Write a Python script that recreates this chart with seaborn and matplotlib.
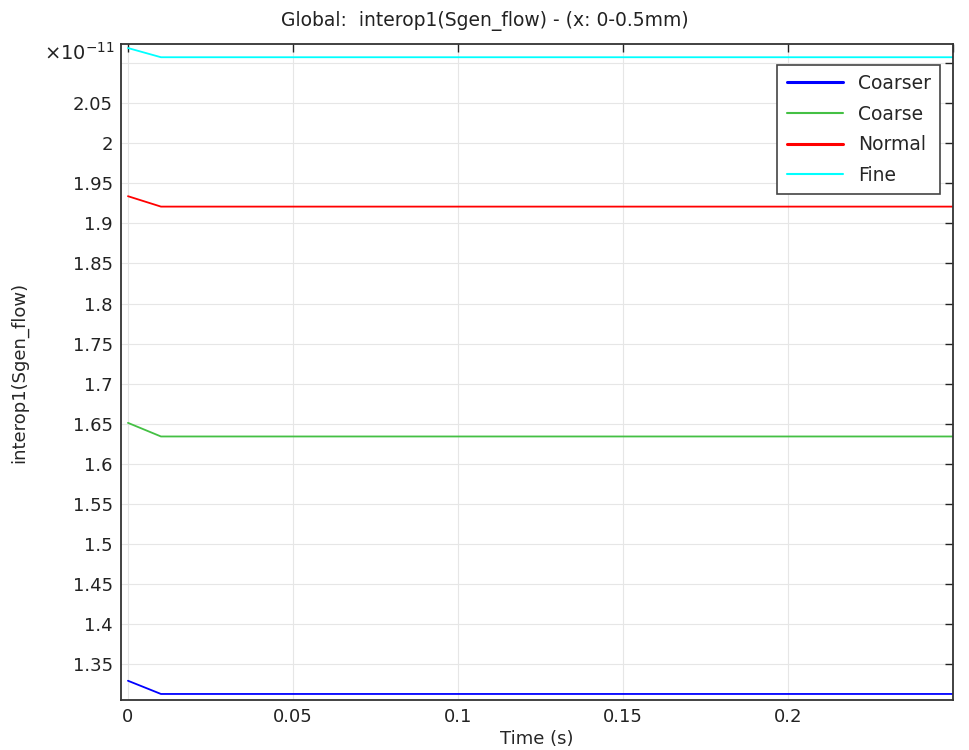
import matplotlib
matplotlib.use("Agg")
import matplotlib.pyplot as plt
import seaborn as sns
import pandas as pd

sns.set_theme(style="white")
plt.rcParams['font.family'] = ['DejaVu Sans']

# Data (values in units of 1e-11)
time_s = [0.0, 0.01, 0.25]
coarser = [1.329, 1.3125, 1.3125]
coarse = [1.651, 1.634, 1.634]
normal = [1.934, 1.921, 1.921]
fine = [2.119, 2.1075, 2.1075]
mesh_names = ['Coarser', 'Coarse', 'Normal', 'Fine']
line_colors = ['#0000ff', '#44c044', '#ff0000', '#00ffff']
y_ticks = [1.35, 1.4, 1.45, 1.5, 1.55, 1.6, 1.65, 1.7, 1.75, 1.8, 1.85,
           1.9, 1.95, 2.0, 2.05, 2.1]
y_labels = ['1.35', '1.4', '1.45', '1.5', '1.55', '1.6', '1.65', '1.7', '1.75',
            '1.8', '1.85', '1.9', '1.95', '2', '2.05', '']
x_ticks = [0, 0.05, 0.1, 0.15, 0.2, 0.25]
x_labels = ['0', '0.05', '0.1', '0.15', '0.2', '']

rows = []
for name, vals in zip(mesh_names, [coarser, coarse, normal, fine]):
    for t, v in zip(time_s, vals):
        rows.append({'Time': t, 'Value': v, 'Mesh': name})
df = pd.DataFrame(rows)

fig = plt.figure(figsize=(9.69, 7.5), dpi=100)
ax = fig.add_axes([0.1249, 0.0667, 0.8586, 0.8746])

sns.lineplot(data=df, x='Time', y='Value', hue='Mesh', hue_order=mesh_names,
             palette=line_colors, linewidth=1.3, ax=ax, legend=False)

ax.set_xlim(-0.0021, 0.25)
ax.set_ylim(1.305, 2.124)
ax.set_xticks(x_ticks)
ax.set_xticklabels(x_labels)
ax.set_yticks(y_ticks)
ax.set_yticklabels(y_labels)
ax.grid(True, color='#e6e6e6', linewidth=0.8)
ax.tick_params(direction='in', length=6, width=1, colors='#222222',
               labelsize=13, top=True, right=True, pad=6)
for s in ax.spines.values():
    s.set_color('#333333')
    s.set_linewidth(1.3)

ax.set_xlabel('Time (s)', fontsize=13, labelpad=3)
ax.set_ylabel('interop1(Sgen_flow)', fontsize=13)
ax.yaxis.set_label_coords(-0.112, 0.5)
fig.text(0.5, 0.972, 'Global:  interop1(Sgen_flow) - (x: 0-0.5mm)',
         ha='center', va='center', fontsize=13.5, color='#222222')
ax.text(-0.008, 0.986, r'$\times 10^{-11}$', transform=ax.transAxes,
        ha='right', va='center', fontsize=14, color='#222222')

handles = [plt.Line2D([], [], color=c, lw=lw) for c, lw in
           zip(line_colors, [2.2, 1.5, 2.2, 1.5])]
leg = ax.legend(handles, mesh_names, loc='upper right', fontsize=13.5,
                frameon=True, fancybox=False, edgecolor='#444444',
                framealpha=1, borderpad=0.5, labelspacing=0.62,
                handlelength=3.0, handletextpad=0.8,
                bbox_to_anchor=(0.996, 0.983))
leg.get_frame().set_linewidth(1.2)

fig.savefig('out.png', dpi=100)
